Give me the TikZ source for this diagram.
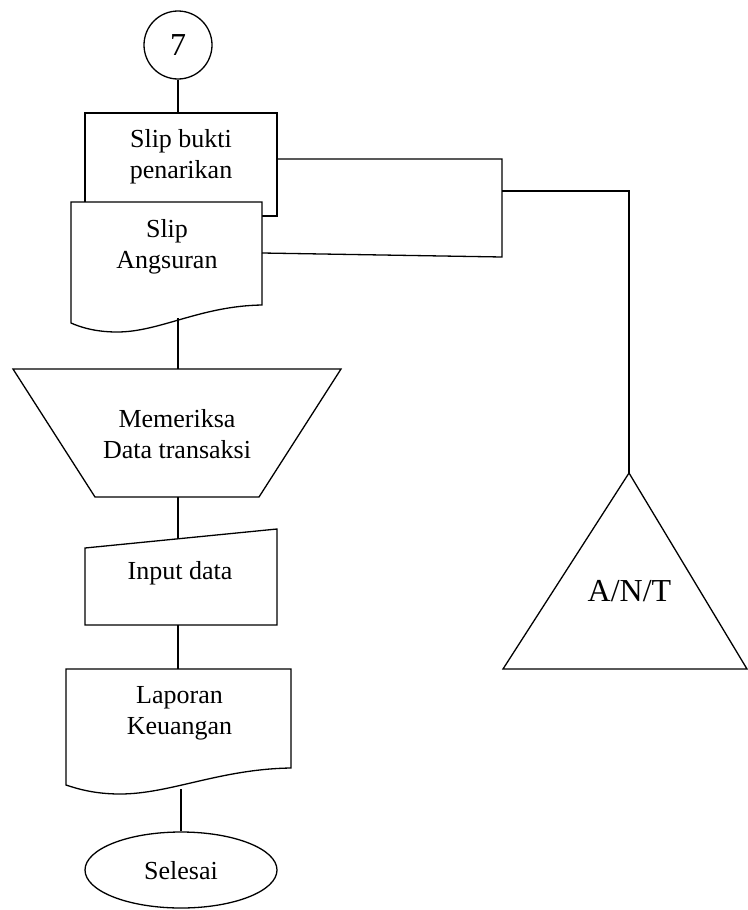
\documentclass[tikz,border=0pt]{standalone}
\usepackage{fontspec}
\setmainfont{Liberation Serif}
\usetikzlibrary{shapes.geometric}
\begin{document}
\begin{tikzpicture}[x=1pt,y=-1pt,line width=1.3pt,
  shp/.style={draw=black,line width=1.3pt,fill=white},
  lbl/.style={inner sep=0pt,align=center,font=\fontsize{26}{31}\selectfont},
  ln/.style={draw=black,line width=1.3pt}]
\useasboundingbox (0,0) rectangle (747,910);
% connector 7
\node[shp,circle,minimum size=68pt,inner sep=0pt,font=\fontsize{32}{36}\selectfont] (c7) at (178,45) {7};
% slip bukti penarikan box
\node[shp,rectangle,minimum width=192pt,minimum height=103pt,inner sep=0pt] (slipb) at (181,164.5) {};
\node[lbl] (slipbt) at (181,157) {Slip bukti\\penarikan};
% slip angsuran document
\draw[shp] (71,202) -- (262,202) -- (262,305) .. controls (200,306) and (160,332) .. (117,332) .. controls (95,332) and (80,327) .. (71,323) -- cycle;
\node[lbl] (slipa) at (167,247) {Slip\\Angsuran};
\coordinate (slipaR) at (262,253);
\coordinate (slipaB) at (178,318);
% trapezoid manual operation
\draw[shp] (13,369) -- (341,369) -- (259,497) -- (95,497) -- cycle;
\node[lbl] (memeriksa) at (177,434) {Memeriksa\\Data transaksi};
\coordinate (trapT) at (178,369);
\coordinate (trapB) at (178,497);
% input data manual input
\draw[shp] (85,548) -- (277,529) -- (277,625) -- (85,625) -- cycle;
\node[lbl] (input) at (180,573) {Input data};
\coordinate (inT) at (178,538);
\coordinate (inB) at (178,625);
% laporan keuangan document
\draw[shp] (66,669) -- (291,669) -- (291,768) .. controls (220,769) and (170,794) .. (120,794) .. controls (95,794) and (78,789) .. (66,785) -- cycle;
\node[lbl] (lap) at (179.5,713.5) {Laporan\\Keuangan};
\coordinate (lapT) at (178,669);
\coordinate (lapB) at (181,789);
% selesai
\node[shp,ellipse,minimum width=192pt,minimum height=76pt,inner sep=0pt] (end) at (181,870) {};
\node[lbl] (endt) at (181,871) {Selesai};
% triangle archive
\draw[shp] (629,473) -- (747,669) -- (503,669) -- cycle;
\node[lbl,font=\fontsize{32}{36}\selectfont] (ant) at (629.5,591) {A/N/T};
\coordinate (triT) at (629,473);
% connectors
\coordinate (j1) at (502,159);
\coordinate (j2) at (502,257);
\coordinate (j3) at (502,191);
\coordinate (j4) at (629,191);
\coordinate (slipbR) at (277,159);
\draw[ln] (c7.south) -- (c7.south |- slipb.north);
\draw[ln] (slipbR) -- (j1) -- (j2) -- (slipaR);
\draw[ln] (j3) -- (j4) -- (triT);
\draw[ln] (slipaB) -- (trapT);
\draw[ln] (trapB) -- (inT);
\draw[ln] (inB) -- (lapT);
\draw[ln] (lapB) -- (end.north);
\end{tikzpicture}
\end{document}
